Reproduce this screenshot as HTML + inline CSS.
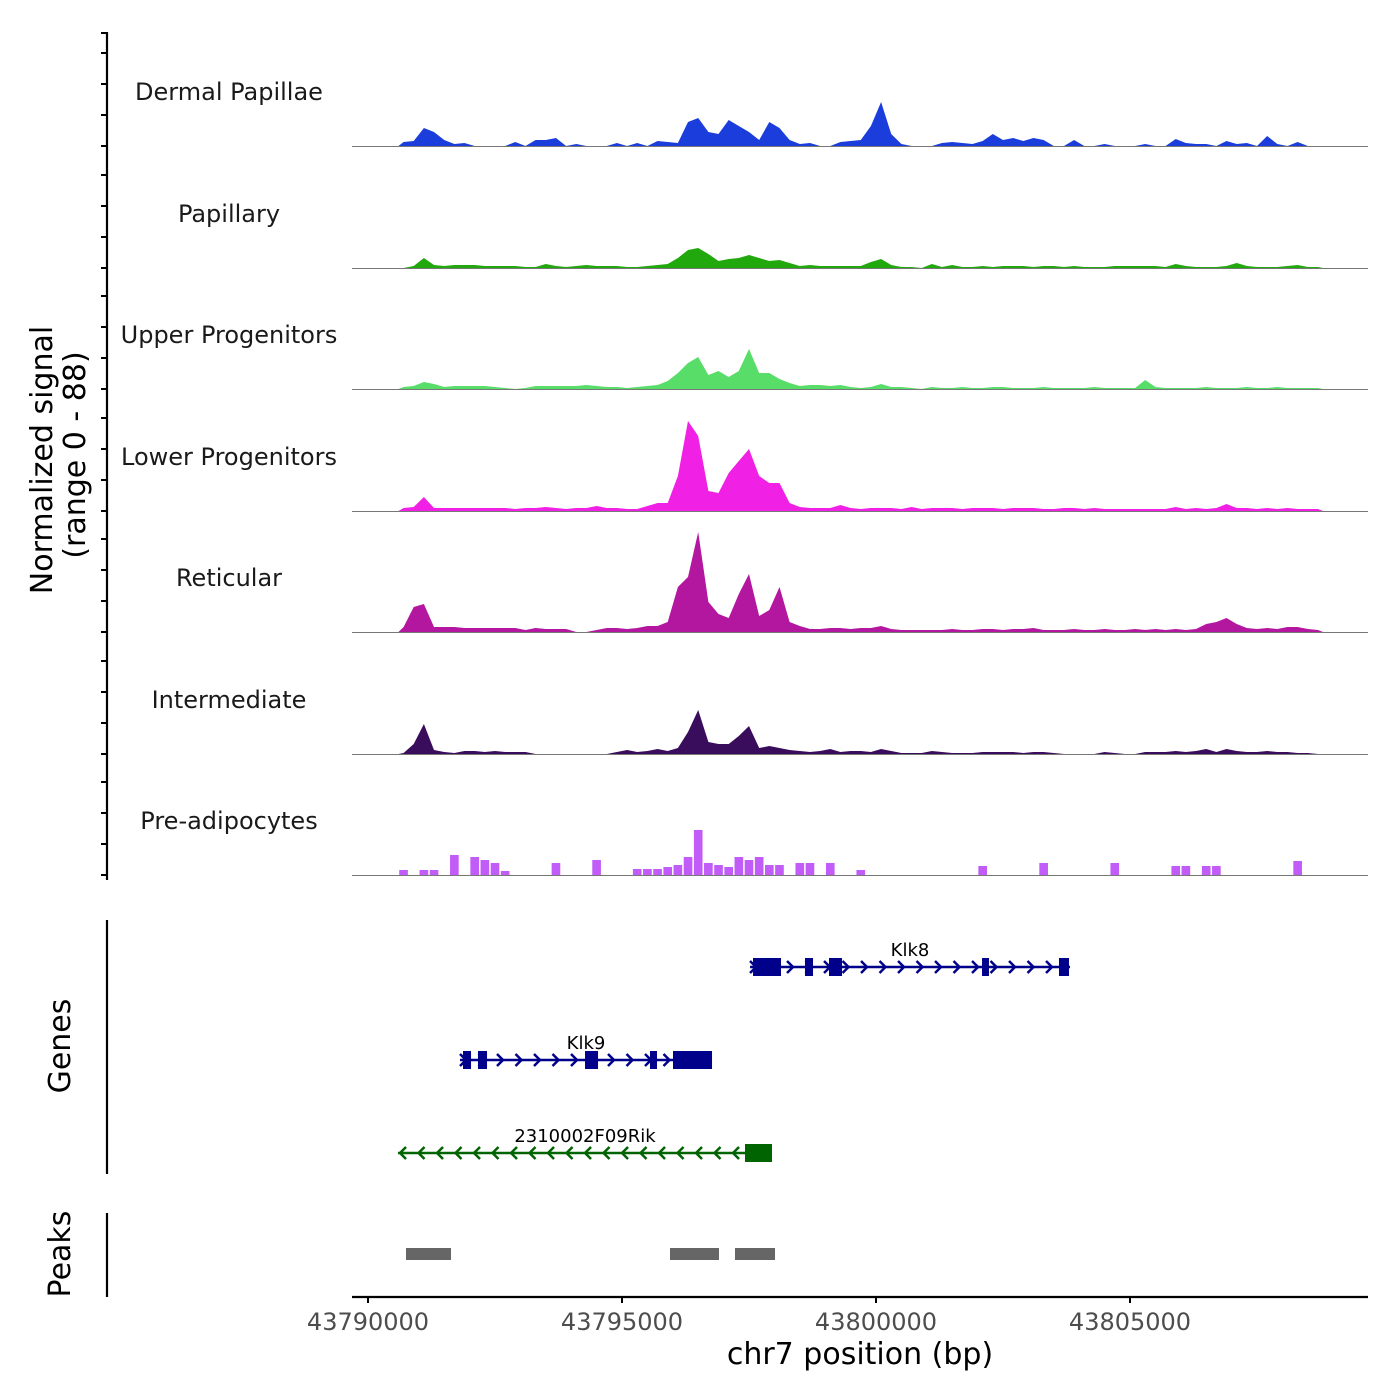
<!DOCTYPE html>
<html><head><meta charset="utf-8"><style>
html,body{margin:0;padding:0;background:#fff;}
svg{display:block;font-family:"DejaVu Sans","Liberation Sans",sans-serif;}
</style></head><body>
<svg id="chart" width="1400" height="1400" viewBox="0 0 1400 1400">
<g id="g-axes"></g><g id="g-tracks"></g><g id="g-genes"></g><g id="g-peaks"></g>
</svg>
<script>
// ---- data ----
const binStart = 43790600;
const binSize = 200;
const trackNames = ["Dermal Papillae","Papillary","Upper Progenitors","Lower Progenitors","Reticular","Intermediate","Pre-adipocytes"];
const trackColors = ["#1a3ddb","#20a80c","#57dd68","#f020e4","#b4179f","#3a0c5c","#c15cf8"];
const dermalPapillae = [4,5,18,14,6,2,3,0,0,0,0,4,0,6,6,8,0,2,0,0,0,3,0,3,0,5,4,3,24,28,14,12,26,20,14,6,24,18,6,2,3,0,0,4,5,6,20,44,12,2,0,0,0,3,4,3,2,5,12,6,8,5,8,6,0,0,6,0,0,2,0,0,0,2,0,0,7,3,2,2,0,5,2,3,0,10,2,0,4,0,0];
const papillary = [0,2,10,3,2,3,3,3,2,2,2,2,1,1,4,2,1,2,3,2,2,2,1,1,2,3,4,10,18,20,14,7,9,10,13,10,7,8,5,2,3,2,2,2,2,2,6,9,3,1,1,0,4,1,3,1,1,2,1,2,2,2,1,2,2,1,2,1,1,1,2,2,2,2,2,1,4,2,1,1,1,2,5,2,1,1,1,2,3,1,1];
const upperProgenitors = [2,3,7,5,2,3,3,3,3,2,1,0,1,3,3,3,3,3,4,3,2,2,1,2,3,4,8,16,26,32,14,18,12,18,40,16,16,10,6,3,4,4,3,4,2,1,2,5,2,2,1,0,2,1,1,2,1,1,2,2,1,1,1,2,1,1,1,1,2,1,1,1,1,9,2,1,1,1,1,2,1,1,1,2,1,1,2,1,1,1,1];
const lowerProgenitors = [3,4,14,3,3,3,3,3,3,3,3,2,3,3,4,3,2,3,3,5,3,3,2,2,5,8,8,35,90,75,20,18,38,50,62,35,28,28,8,4,3,3,3,6,3,2,3,3,3,2,4,2,3,3,3,2,3,3,3,2,3,3,3,2,2,3,3,2,3,2,2,2,2,2,2,2,4,2,3,2,3,7,3,3,2,3,2,3,2,2,2];
const reticular = [5,25,28,5,5,5,4,4,4,4,4,4,2,4,3,3,3,0,0,2,4,4,3,4,6,6,10,45,55,100,30,18,14,38,58,16,22,45,10,6,3,3,4,4,3,4,4,6,3,2,2,2,2,2,3,2,2,3,3,2,3,3,4,2,2,2,3,2,2,3,2,2,3,2,3,2,3,2,3,8,10,14,8,4,3,4,3,5,5,3,2];
const intermediate = [1,10,30,4,2,1,3,3,2,3,2,2,2,0,0,0,0,0,0,0,0,2,4,2,3,5,3,6,22,44,12,10,10,18,28,6,8,6,4,3,2,3,5,2,3,3,2,5,3,1,1,1,3,2,1,1,1,2,2,2,2,1,2,2,1,0,0,0,0,2,1,0,0,2,2,2,3,2,3,5,2,5,3,2,2,3,2,2,1,1,0];
const preAdipocytes = [5,0,5,5,0,20,0,18,15,12,4,0,0,0,0,12,0,0,0,15,0,0,0,6,6,6,8,10,18,45,12,10,8,18,15,18,10,10,0,12,12,0,12,0,0,5,0,0,0,0,0,0,0,0,0,0,0,9,0,0,0,0,0,12,0,0,0,0,0,0,12,0,0,0,0,0,9,9,0,9,9,0,0,0,0,0,0,0,14,0,0];
const trackData = [dermalPapillae,papillary,upperProgenitors,lowerProgenitors,reticular,intermediate,preAdipocytes];
const xTicks = [43790000,43795000,43800000,43805000];
const geneNames = ["Klk8","Klk9","2310002F09Rik"];
const geneStarts = [43797520,43791811,43790591];
const geneEnds = [43803819,43796772,43797953];
const geneStrands = ["+","+","-"];
const geneExons = [
 [[43797579,43798130],[43798602,43798760],[43799075,43799331],[43802087,43802224],[43803602,43803799]],
 [[43791870,43792028],[43792165,43792343],[43794272,43794528],[43795551,43795689],[43796004,43796772]],
 [[43797421,43797953]]
];
const peakStarts = [43790748,43795945,43797224];
const peakEnds = [43791634,43796909,43798012];

// ---- scales ----
const NS="http://www.w3.org/2000/svg";
const X0=352, X1=1368, BP0=43789685, BP1=43809685;
function xs(bp){return X0+(bp-BP0)*(X1-X0)/(BP1-BP0);}
const baselines=[146,268,389,511,632,754,875];
const Y_MAX=121, TRACK_H=121;
function ys(v,b){return b-v*TRACK_H/Y_MAX;}
function mk(tag,attrs,parent,text){const e=document.createElementNS(NS,tag);for(const k in attrs)e.setAttribute(k,attrs[k]);if(text!==undefined)e.textContent=text;parent.appendChild(e);return e;}

const gA=document.getElementById('g-axes'),gT=document.getElementById('g-tracks'),gG=document.getElementById('g-genes'),gP=document.getElementById('g-peaks');

let ax=mk('line',{x1:107,y1:32,x2:107,y2:880,stroke:'#000','stroke-width':2.2},gA);


baselines.forEach(b=>{for(let k=0;k<4;k++){const t=mk('line',{x1:101,x2:107,y1:b-k*31,y2:b-k*31,stroke:'#000','stroke-width':2},gA);

}});
let tt=mk('line',{x1:101,x2:107,y1:33,y2:33,stroke:'#000','stroke-width':2},gA);


let yt=mk('text',{x:0,y:0,transform:'translate(52,460) rotate(-90)','text-anchor':'middle','font-size':30,fill:'#000'},gA,'Normalized signal');


let yt2=mk('text',{x:0,y:0,transform:'translate(85,455) rotate(-90)','text-anchor':'middle','font-size':30,fill:'#000'},gA,'(range 0 - 88)');



trackData.forEach((arr,ti)=>{
  const b=baselines[ti];
  const g=mk('g',{},gT);
  
  
  let d='';
  if(ti===6){
    arr.forEach((v,i)=>{if(v>0){const xa=xs(binStart+i*binSize+15),xb=xs(binStart+(i+1)*binSize-15);d+=`M${xa},${b}L${xa},${ys(v,b)}L${xb},${ys(v,b)}L${xb},${b}Z`;}});
  } else {
    d=`M${xs(binStart)},${b}`;
    arr.forEach((v,i)=>{d+=`L${xs(binStart+i*binSize+binSize/2).toFixed(1)},${ys(v,b).toFixed(1)}`;});
    d+=`L${xs(binStart+arr.length*binSize)},${b}Z`;
  }
  const p=mk('path',{d:d,fill:trackColors[ti]},g);
  
  
  const bl=mk('line',{x1:X0,x2:X1,y1:b+0.5,y2:b+0.5,stroke:'#777','stroke-width':1},g);
  
  
  const lb=mk('text',{x:229,y:b-46,'text-anchor':'middle','font-size':24,fill:'#1a1a1a'},g,trackNames[ti]);
  
  
});

let ga=mk('line',{x1:107,y1:920,x2:107,y2:1174,stroke:'#000','stroke-width':2.2},gA);


let gt=mk('text',{x:0,y:0,transform:'translate(70,1046) rotate(-90)','text-anchor':'middle','font-size':30,fill:'#000'},gA,'Genes');


const geneY=[967,1060,1153];
geneNames.forEach((n,gi)=>{
  const y=geneY[gi], col=geneStrands[gi]==='+'?'#00008b':'#006400';
  const g=mk('g',{},gG);
  
  
  const xa=xs(geneStarts[gi]),xb=xs(geneEnds[gi]);
  mk('line',{x1:xa,x2:xb,y1:y,y2:y,stroke:col,'stroke-width':2.5},g);
  const dir=geneStrands[gi]==='+'?1:-1;
  for(let x=xa+4;x<xb-2;x+=18.5){
    mk('polyline',{points:`${x-4*dir},${y-6} ${x+2*dir},${y} ${x-4*dir},${y+6}`,fill:'none',stroke:col,'stroke-width':2.5},g);
  }
  geneExons[gi].forEach(e=>{mk('rect',{x:xs(e[0]),y:y-9,width:xs(e[1])-xs(e[0]),height:18,fill:col},g);});
  const t=mk('text',{x:(xa+xb)/2,y:y-11,'text-anchor':'middle','font-size':18,fill:'#000'},g,n);
  
  
});

let pa=mk('line',{x1:107,y1:1213,x2:107,y2:1297,stroke:'#000','stroke-width':2.2},gA);


let pt=mk('text',{x:0,y:0,transform:'translate(70,1254) rotate(-90)','text-anchor':'middle','font-size':30,fill:'#000'},gA,'Peaks');


peakStarts.forEach((s,i)=>{
  const r=mk('rect',{x:xs(s),y:1248,width:xs(peakEnds[i])-xs(s),height:12,fill:'#666'},gP);
  
  
});

let xa=mk('line',{x1:X0,x2:X1,y1:1297,y2:1297,stroke:'#000','stroke-width':2.2},gA);


xTicks.forEach(v=>{
  const x=xs(v);
  const t=mk('line',{x1:x,x2:x,y1:1297,y2:1303,stroke:'#000','stroke-width':2},gA);
  
  
  const l=mk('text',{x:x,y:1330,'text-anchor':'middle','font-size':24,fill:'#4d4d4d'},gA,String(v));
  
  
});
let xt=mk('text',{x:860,y:1364,'text-anchor':'middle','font-size':30,fill:'#000'},gA,'chr7 position (bp)');


</script>
</body></html>
